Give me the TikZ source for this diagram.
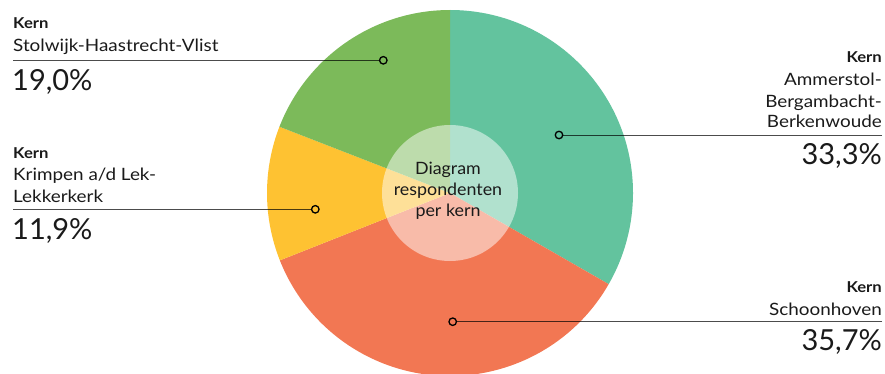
\documentclass[tikz,border=0pt]{standalone}
\usepackage{fontspec}
\setmainfont{Lato}
\newfontfamily\widefont{Lato}[FakeStretch=1.11]
\newfontfamily\midfont{Lato}[FakeStretch=1.05]
\definecolor{cteal}{HTML}{63C39E}
\definecolor{corange}{HTML}{F27753}
\definecolor{cyellow}{HTML}{FEC232}
\definecolor{cgreen}{HTML}{7CBA5A}
\definecolor{ctext}{HTML}{1A1A1A}
\begin{document}
\begin{tikzpicture}[x=1pt,y=1pt,
  kern/.style={inner sep=0pt,font=\widefont\fontsize{15}{18}\selectfont\bfseries,text=ctext},
  lname/.style={inner sep=0pt,font=\widefont\fontsize{17}{20}\selectfont,text=ctext},
  pct/.style={inner sep=0pt,font=\fontsize{29}{34}\selectfont,text=ctext},
  ctr/.style={inner sep=0pt,font=\midfont\fontsize{17}{20}\selectfont,text=ctext},
  dot/.style={circle,draw=black,line width=1.3pt,minimum size=7.5pt,inner sep=0pt},
  leader/.style={draw=black,draw opacity=0.7,line width=1pt}]
\useasboundingbox (0,0) rectangle (885,373);
\coordinate (c) at (450,180);
% slices
\fill[cteal] (c) -- ++(90:183) arc[start angle=90,end angle=-29.88,radius=183] -- cycle;
\fill[corange] (c) -- ++(-29.88:183) arc[start angle=-29.88,end angle=-158.4,radius=183] -- cycle;
\fill[cyellow] (c) -- ++(-158.4:183) arc[start angle=-158.4,end angle=-201.24,radius=183] -- cycle;
\fill[cgreen] (c) -- ++(-201.24:183) arc[start angle=-201.24,end angle=-270,radius=183] -- cycle;
\fill[white,opacity=0.5] (c) circle[radius=68];
% centre text
\node[ctr,anchor=base] (t1) at (448,199) {Diagram};
\node[ctr,anchor=base] (t2) at (448,178) {respondenten};
\node[ctr,anchor=base] (t3) at (448,157) {per kern};
% dots
\node[dot] (dg) at (383.3,312.7) {};
\node[dot] (dt) at (559,238) {};
\node[dot] (dy) at (315.3,163.7) {};
\node[dot] (do) at (452.7,51.3) {};
% line ends
\coordinate (eg) at (13,312.7);
\coordinate (ey) at (13,163.7);
\coordinate (et) at (882,238);
\coordinate (eo) at (882,51.3);
\draw[leader] (eg) -- (dg);
\draw[leader] (ey) -- (dy);
\draw[leader] (et) -- (dt);
\draw[leader] (eo) -- (do);
% top-left
\node[kern,anchor=base west] (k1) at (13,344.3) {Kern};
\node[lname,anchor=base west] (n1) at (13,321.3) {Stolwijk-Haastrecht-Vlist};
\node[pct,anchor=base west] (p1) at (12,283) {19,0\%};
% left middle
\node[kern,anchor=base west] (k2) at (13,215) {Kern};
\node[lname,anchor=base west] (n2a) at (13,192.3) {Krimpen a/d Lek-};
\node[lname,anchor=base west] (n2b) at (13,170.3) {Lekkerkerk};
\node[pct,anchor=base west] (p2) at (12,134) {11,9\%};
% right top
\node[kern,anchor=base east] (k3) at (882,310) {Kern};
\node[lname,anchor=base east] (n3a) at (882,287.3) {Ammerstol-};
\node[lname,anchor=base east] (n3b) at (882,265.3) {Bergambacht-};
\node[lname,anchor=base east] (n3c) at (882,246) {Berkenwoude};
\node[pct,anchor=base east] (p3) at (882,209) {33,3\%};
% right bottom
\node[kern,anchor=base east] (k4) at (882,81) {Kern};
\node[lname,anchor=base east] (n4) at (882,58) {Schoonhoven};
\node[pct,anchor=base east] (p4) at (882,22.3) {35,7\%};
\end{tikzpicture}
\end{document}
